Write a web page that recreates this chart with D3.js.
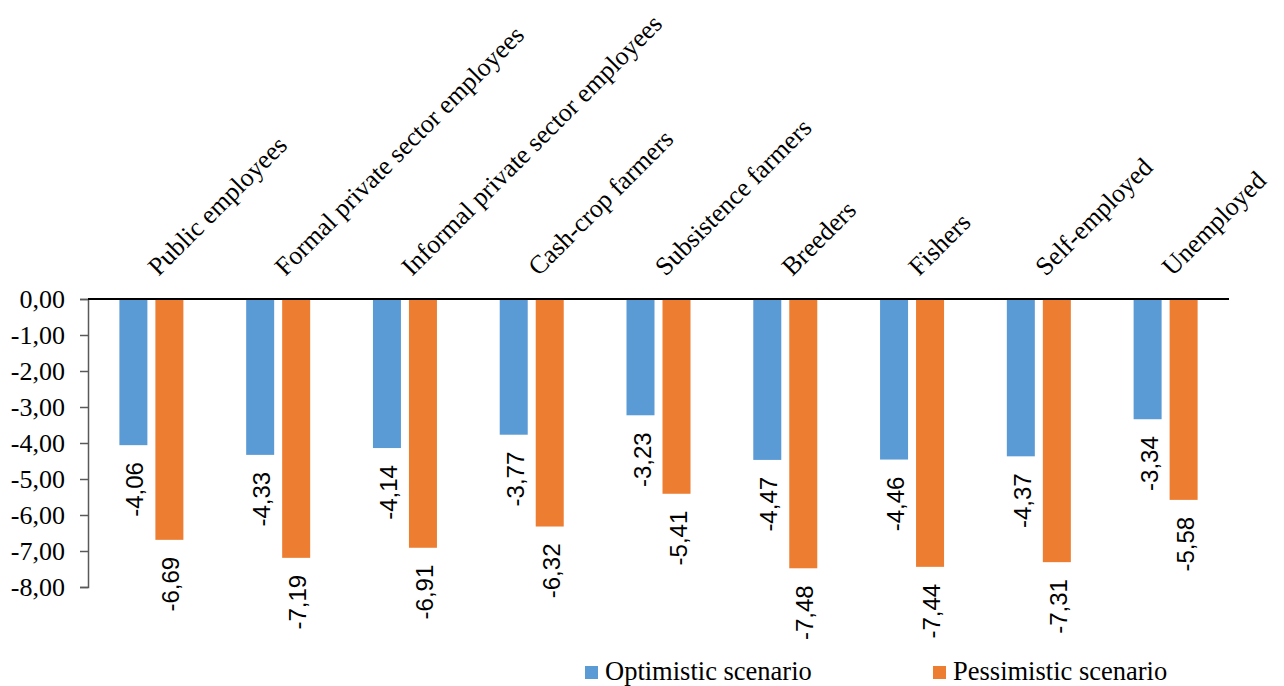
<!DOCTYPE html>
<html>
<head>
<meta charset="utf-8">
<script src="https://cdn.jsdelivr.net/npm/d3@7"></script>
<style>
  html, body { margin: 0; padding: 0; background: #fff; }
  svg { display: block; }
  text.serif { font-family: "Liberation Serif", "Times New Roman", Times, "DejaVu Serif", serif; fill: #000; }
  text.sans { font-family: "Liberation Sans", Arial, Helvetica, sans-serif; fill: #000; }
</style>
</head>
<body>
<svg id="chart" width="1284" height="686"></svg>
<script>
const categories = ["Public employees", "Formal private sector employees", "Informal private sector employees",
  "Cash-crop farmers", "Subsistence farmers", "Breeders", "Fishers", "Self-employed", "Unemployed"];
const seriesNames = ["Optimistic scenario", "Pessimistic scenario"];
const optimistic = [-4.06, -4.33, -4.14, -3.77, -3.23, -4.47, -4.46, -4.37, -3.34];
const pessimistic = [-6.69, -7.19, -6.91, -6.32, -5.41, -7.48, -7.44, -7.31, -5.58];
const yTicks = [0, -1, -2, -3, -4, -5, -6, -7, -8];
const colors = ["#5B9BD5", "#ED7D31"];

(function () {
const svg = d3.select("#chart");
const mLeft = 88, mRight = 1229, mTop = 299, mBottom = 587;
const fontSize = 26;

const x = d3.scaleBand().domain(categories).range([mLeft, mRight]).padding(0);
const y = d3.scaleLinear().domain([-8, 0]).range([mBottom, mTop]);
const inner = d3.scaleBand().domain(seriesNames).paddingInner(8 / 36).paddingOuter(0);

const fmt = v => v.toFixed(2).replace(".", ",");

// bars
const data = categories.map((c, i) => ({ cat: c, vals: [optimistic[i], pessimistic[i]] }));
const groups = svg.append("g").selectAll("g").data(data).join("g");
groups.each(function(d) {
  const cx = x(d.cat) + x.bandwidth() / 2;
  inner.range([cx - 32, cx + 32]);
  const g = d3.select(this);
  d.vals.forEach((v, j) => {
    const bx = inner(seriesNames[j]);
    const bw = inner.bandwidth();
    g.append("rect")
      .attr("x", bx).attr("width", bw)
      .attr("y", y(0)).attr("height", y(v) - y(0))
      .attr("fill", colors[j]);
    const bc = bx + bw / 2;
    g.append("text")
      .attr("class", "sans")
      .attr("transform", `translate(${bc + 10},${y(v) + 17}) rotate(-90)`)
      .attr("text-anchor", "end")
      .attr("font-size", 24)
      .text(fmt(v));
  });
});

// y axis
const yAxis = d3.axisLeft(y).tickValues(yTicks).tickSize(8).tickPadding(15).tickFormat(fmt);
const ya = svg.append("g").attr("transform", `translate(${mLeft},0)`).call(yAxis);
ya.attr("font-family", null);
ya.select(".domain").attr("stroke", "#595959").attr("stroke-width", 1.5);
ya.selectAll(".tick line").attr("stroke", "#595959").attr("stroke-width", 1.5);
ya.selectAll(".tick text").attr("class", "serif").attr("font-size", fontSize)
  .attr("fill", "#000").attr("dy", "0.32em");

// zero line
svg.append("line").attr("x1", mLeft).attr("x2", mRight).attr("y1", y(0)).attr("y2", y(0))
  .attr("stroke", "#000").attr("stroke-width", 2);

// category labels
svg.append("g").selectAll("text").data(categories).join("text")
  .attr("class", "serif")
  .attr("transform", d => `translate(${x(d) + x.bandwidth() / 2 + 7},${mTop - 22}) rotate(-45)`)
  .attr("text-anchor", "start")
  .attr("font-size", fontSize)
  .text(d => d);

// legend
const legendX = [585, 933];
const lg = svg.append("g").selectAll("g").data(seriesNames).join("g")
  .attr("transform", (d, i) => `translate(${legendX[i]},666)`);
lg.append("rect").attr("width", 13).attr("height", 13).attr("fill", (d, i) => colors[i]);
lg.append("text").attr("class", "serif").attr("x", 20).attr("y", 14).attr("font-size", 26.5).text(d => d);
})();
</script>
</body>
</html>
